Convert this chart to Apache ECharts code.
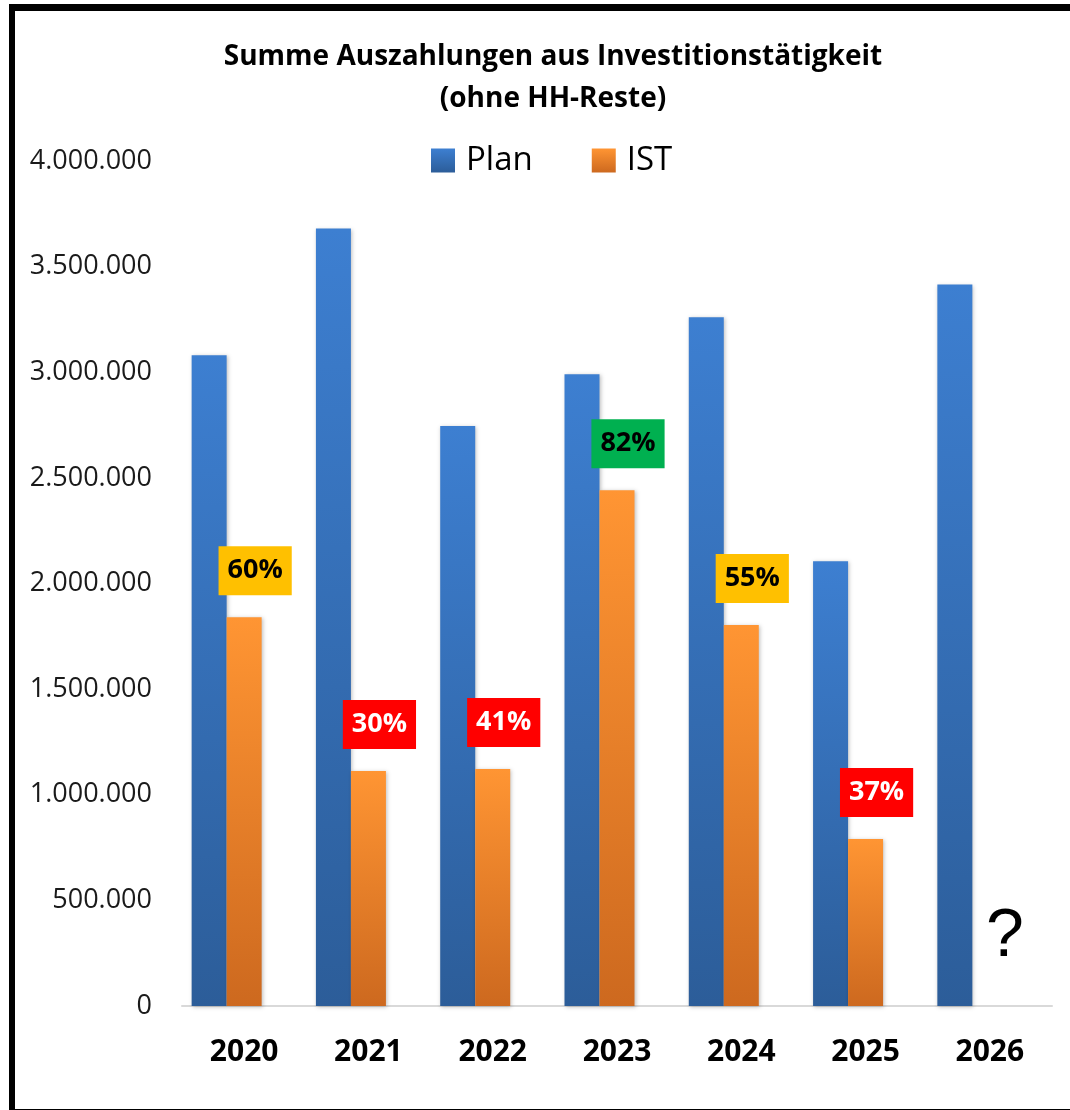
<!DOCTYPE html>
<html>
<head>
<meta charset="utf-8" />
<script src="https://cdn.jsdelivr.net/npm/echarts@6/dist/echarts.min.js"></script>
<style>
  html, body { margin: 0; padding: 0; background: #ffffff; }
  #chart { position: absolute; left: 0; top: 0; width: 1070px; height: 1110px; }
  #frame {
    position: absolute; left: 9px; top: 4px; width: 1070px; height: 1098px;
    border-top: 7px solid #000; border-left: 6px solid #000; border-bottom: 2px solid #000;
    pointer-events: none;
  }
</style>
</head>
<body>
<div id="chart"></div>
<div id="frame"></div>
<script>
// chart data
const years = ["2020", "2021", "2022", "2023", "2024", "2025", "2026"];
const planValues = [3080000, 3680000, 2745000, 2990000, 3260000, 2105000, 3415000];
const istValues = [1840000, 1112000, 1122000, 2442000, 1803000, 790000, null];
const istShares = [60, 30, 41, 82, 55, 37, null]; // IST in % of Plan
const yTicks = [0, 500000, 1000000, 1500000, 2000000, 2500000, 3000000, 3500000, 4000000];

const FONT = "'Open Sans', sans-serif";

const fmtNumber = (v) => String(v).replace(/\B(?=(\d{3})+(?!\d))/g, ".");

const shareStyle = (pct) => {
  if (pct < 50) return { backgroundColor: "#FF0000", color: "#ffffff" };
  if (pct < 80) return { backgroundColor: "#FFC000", color: "#000000" };
  return { backgroundColor: "#00B050", color: "#000000" };
};

const planColor = new echarts.graphic.LinearGradient(0, 0, 0, 1, [
  { offset: 0, color: "#3D7FD1" },
  { offset: 1, color: "#2C5D99" },
]);
const istColor = new echarts.graphic.LinearGradient(0, 0, 0, 1, [
  { offset: 0, color: "#FF9533" },
  { offset: 1, color: "#CD691F" },
]);

const istData = istValues.map((v, i) => {
  if (v === null) return null;
  const st = shareStyle(istShares[i]);
  return {
    value: v,
    label: {
      show: true,
      position: "top",
      distance: 22,
      offset: [11, 0],
      formatter: istShares[i] + "%",
      fontFamily: FONT,
      fontWeight: "bold",
      fontSize: 27,
      lineHeight: 29,
      padding: [10, 9],
      color: st.color,
      backgroundColor: st.backgroundColor,
    },
  };
});

const chart = echarts.init(document.getElementById("chart"));

const barShadow = {
  shadowBlur: 4,
  shadowColor: "rgba(0,0,0,0.25)",
  shadowOffsetX: 1,
  shadowOffsetY: 1,
};

const option = {
  backgroundColor: "#ffffff",
  animation: false,
  title: {
    text: "Summe Auszahlungen aus Investitionstätigkeit\n(ohne HH-Reste)",
    left: 548,
    top: 31,
    textAlign: "center",
    textStyle: {
      fontFamily: FONT,
      fontWeight: "bold",
      fontSize: 28,
      lineHeight: 42,
      color: "#000000",
    },
  },
  legend: {
    data: ["Plan", "IST"],
    top: 139,
    left: 426,
    itemWidth: 24,
    itemHeight: 24,
    itemGap: 59,
    icon: "rect",
    textStyle: {
      fontFamily: FONT,
      fontSize: 33,
      lineHeight: 24,
      color: "#000000",
      padding: [0, 0, 0, 6],
    },
  },
  grid: {
    left: 182,
    right: 18,
    top: 161,
    bottom: 104,
  },
  xAxis: {
    type: "category",
    data: years,
    axisLine: { show: true, lineStyle: { color: "#D9D9D9", width: 2 } },
    axisTick: { show: false },
    axisLabel: {
      margin: 31,
      fontFamily: FONT,
      fontWeight: "bold",
      fontSize: 30,
      color: "#000000",
    },
  },
  yAxis: {
    type: "value",
    min: yTicks[0],
    max: yTicks[yTicks.length - 1],
    interval: yTicks[1] - yTicks[0],
    splitLine: { show: false },
    axisLine: { show: false },
    axisTick: { show: false },
    axisLabel: {
      margin: 30,
      fontFamily: FONT,
      fontSize: 27,
      color: "#1a1a1a",
      formatter: fmtNumber,
    },
  },
  series: [
    {
      name: "Plan",
      type: "bar",
      data: planValues,
      barWidth: 35,
      barGap: "0%",
      itemStyle: Object.assign({ color: planColor }, barShadow),
    },
    {
      name: "IST",
      type: "bar",
      data: istData,
      barWidth: 35,
      barGap: "0%",
      itemStyle: Object.assign({ color: istColor }, barShadow),
    },
    {
      // empty third slot, as in the original sheet
      name: "",
      type: "bar",
      data: years.map(() => null),
      barWidth: 35,
      barGap: "0%",
    },
  ],
  graphic: [
    {
      type: "text",
      left: 986,
      top: 903,
      style: {
        text: "?",
        fontFamily: "'Liberation Sans', Arial, sans-serif",
        fontSize: 68,
        fill: "#000000",
      },
    },
  ],
};

chart.setOption(option);
</script>
</body>
</html>
